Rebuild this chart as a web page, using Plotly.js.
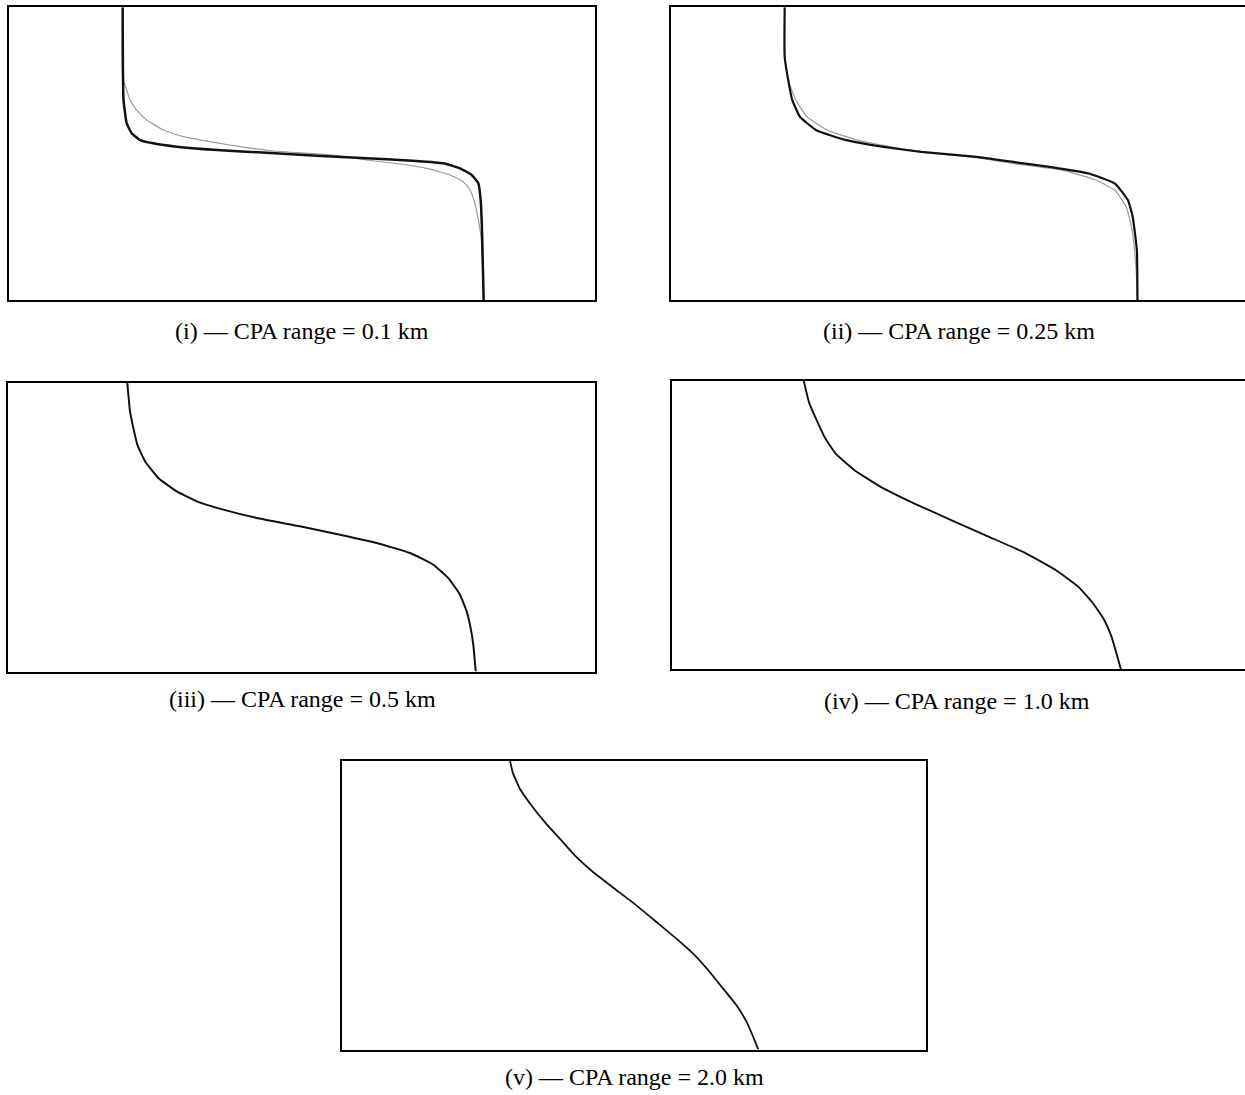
<!DOCTYPE html>
<html>
<head>
<meta charset="utf-8">
<script src="https://cdn.plot.ly/plotly-3.0.1.min.js"></script>
<style>html,body{margin:0;padding:0;background:#fff;}#chart{width:1245px;height:1095px;}</style>
</head>
<body>
<div id="chart"></div>
<script>
// Normalised positions inside each panel box: x 0..1 left→right, y 0..1 top→bottom
const captions = [
  "(i) — CPA range = 0.1 km",
  "(ii) — CPA range = 0.25 km",
  "(iii) — CPA range = 0.5 km",
  "(iv) — CPA range = 1.0 km",
  "(v) — CPA range = 2.0 km"
];

// Panel (i) CPA 0.1 km
const p1DarkX = [0.194, 0.1954, 0.2009, 0.2094, 0.2235, 0.2462, 0.2862, 0.3544, 0.4398, 0.5251, 0.6104, 0.6957, 0.7411, 0.7696, 0.7896, 0.8009, 0.8049, 0.8072, 0.810];
const p1DarkY = [0.000, 0.3167, 0.3963, 0.4305, 0.4534, 0.4646, 0.4763, 0.4875, 0.4968, 0.5070, 0.5159, 0.5251, 0.5330, 0.5501, 0.5729, 0.6013, 0.6584, 0.761, 1.000];
const p1GreyX = [0.194, 0.194, 0.2009, 0.2065, 0.2179, 0.2350, 0.2633, 0.2975, 0.3430, 0.3942, 0.4511, 0.5534, 0.6104, 0.6672, 0.7128, 0.7526, 0.7753, 0.7867, 0.7935, 0.800, 0.806, 0.810];
const p1GreyY = [0.000, 0.240, 0.2826, 0.3167, 0.3509, 0.3850, 0.4192, 0.4421, 0.4592, 0.4763, 0.4910, 0.5046, 0.5217, 0.5354, 0.5501, 0.5729, 0.5958, 0.6242, 0.6584, 0.715, 0.795, 1.000];

// Panel (ii) CPA 0.25 km
const p2DarkX = [0.194, 0.194, 0.201, 0.207, 0.220, 0.248, 0.299, 0.363, 0.427, 0.522, 0.586, 0.649, 0.713, 0.758, 0.780, 0.788, 0.795, 0.796];
const p2DarkY = [0.000, 0.169, 0.260, 0.317, 0.374, 0.420, 0.454, 0.477, 0.494, 0.511, 0.529, 0.546, 0.568, 0.603, 0.660, 0.717, 0.831, 1.000];
const p2GreyX = [0.194, 0.194, 0.202, 0.213, 0.232, 0.267, 0.318, 0.376, 0.427, 0.522, 0.586, 0.669, 0.726, 0.758, 0.777, 0.786, 0.791, 0.795, 0.796];
const p2GreyY = [0.000, 0.169, 0.260, 0.317, 0.374, 0.420, 0.454, 0.477, 0.494, 0.514, 0.534, 0.557, 0.591, 0.626, 0.683, 0.751, 0.831, 0.945, 1.000];

// Panel (iii) CPA 0.5 km
const p3X = [0.2032, 0.2078, 0.2135, 0.2203, 0.2334, 0.2560, 0.2874, 0.3215, 0.3668, 0.4237, 0.4974, 0.5656, 0.6281, 0.6848, 0.7245, 0.7501, 0.7700, 0.7814, 0.7882, 0.7927, 0.7968];
const p3Y = [0.000, 0.0993, 0.1570, 0.2148, 0.2725, 0.3303, 0.3765, 0.4111, 0.4400, 0.4688, 0.4977, 0.5266, 0.5554, 0.5901, 0.6305, 0.6767, 0.7344, 0.7921, 0.8499, 0.9076, 1.000];

// Panel (iv) CPA 1.0 km
const p4X = [0.2248, 0.2344, 0.260, 0.279, 0.311, 0.3554, 0.4127, 0.4764, 0.540, 0.604, 0.6548, 0.693, 0.7185, 0.7376, 0.750, 0.766];
const p4Y = [0.000, 0.0785, 0.194, 0.2517, 0.3095, 0.367, 0.425, 0.4827, 0.540, 0.598, 0.656, 0.7136, 0.771, 0.829, 0.887, 1.000];

// Panel (v) CPA 2.0 km
const p5X = [0.2877, 0.2923, 0.3048, 0.3248, 0.3476, 0.3733, 0.3990, 0.4303, 0.4675, 0.5046, 0.5389, 0.5731, 0.6045, 0.6301, 0.6529, 0.6758, 0.6930, 0.7055, 0.7128];
const p5Y = [0.000, 0.0404, 0.0980, 0.1557, 0.2134, 0.2710, 0.3287, 0.3864, 0.4441, 0.5017, 0.5594, 0.6171, 0.6747, 0.7324, 0.7901, 0.8478, 0.9054, 0.9631, 1.000];

const DARK = '#111111', GREY = '#9a9a9a';

function line(x, y, ax, color, width) {
  return {x: x, y: y, xaxis: 'x' + ax, yaxis: 'y' + ax, type: 'scatter', mode: 'lines',
          line: {color: color, width: width, shape: 'spline', smoothing: 0.4},
          hoverinfo: 'skip', showlegend: false};
}

const traces = [
  line(p1GreyX, p1GreyY, '', GREY, 1.2),
  line(p1DarkX, p1DarkY, '', DARK, 2.5),
  line(p2GreyX, p2GreyY, '2', GREY, 1.2),
  line(p2DarkX, p2DarkY, '2', DARK, 2.2),
  line(p3X, p3Y, '3', DARK, 2.0),
  line(p4X, p4Y, '4', DARK, 1.9),
  line(p5X, p5Y, '5', DARK, 1.8)
];

function xa(dom, r, mirror) {
  return {domain: dom, range: r, showline: true, mirror: mirror, linecolor: '#000', linewidth: 2,
          showgrid: false, zeroline: false, showticklabels: false, ticks: '', fixedrange: true};
}
const W = 1245, H = 1095;
const layout = {
  width: W, height: H,
  margin: {l: 0, r: 0, t: 0, b: 0},
  paper_bgcolor: '#fff', plot_bgcolor: '#fff',
  showlegend: false,
  xaxis:  xa([9/W, 595/W], [0, 1], true),
  yaxis:  xa([1-300/H, 1-7.3/H], [1, 0], true),
  xaxis2: xa([671/W, 1], [0, 574/586], true),
  yaxis2: xa([1-300/H, 1-7.3/H], [1, 0], false),
  xaxis3: xa([8/W, 595/W], [0, 1], true),
  yaxis3: xa([1-671.5/H, 1-382.5/H], [1, 0], true),
  xaxis4: xa([672/W, 1], [0, 573/586], true),
  yaxis4: xa([1-669.3/H, 1-380.7/H], [1, 0], false),
  xaxis5: xa([342/W, 926/W], [0, 1], true),
  yaxis5: xa([1-1049.5/H, 1-760.7/H], [1, 0], true),
  annotations: [
    [302, 331], [959, 331], [302, 699], [957, 701], [634, 1077]
  ].map(function (p, i) {
    return {text: captions[i], xref: 'paper', yref: 'paper', x: p[0]/W, y: 1 - p[1]/H,
            xanchor: 'center', yanchor: 'middle', showarrow: false,
            font: {family: 'Liberation Serif, Times New Roman, serif', size: 24, color: '#000'}};
  })
};
layout.xaxis.anchor = 'y';  layout.yaxis.anchor = 'x';
layout.xaxis2.anchor = 'y2'; layout.yaxis2.anchor = 'x2';
layout.xaxis3.anchor = 'y3'; layout.yaxis3.anchor = 'x3';
layout.xaxis4.anchor = 'y4'; layout.yaxis4.anchor = 'x4';
layout.xaxis5.anchor = 'y5'; layout.yaxis5.anchor = 'x5';

Plotly.newPlot('chart', traces, layout, {staticPlot: true, displayModeBar: false});
</script>
</body>
</html>
